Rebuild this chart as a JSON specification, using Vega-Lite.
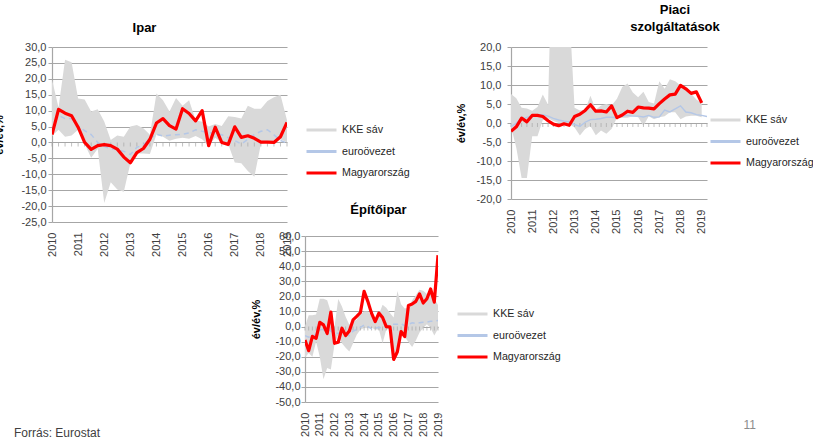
{
  "$schema": "https://vega.github.io/schema/vega-lite/v6.json",
  "background": "white",
  "padding": {"left": -7, "top": 4, "right": 12, "bottom": 0},
  "datasets": {
    "ipar": [
      {"t": 2010.0, "lo": 2.0, "hi": 19.8, "ea": 4.0, "hu": 2.5},
      {"t": 2010.25, "lo": 4.0, "hi": 11.0, "ea": 8.5, "hu": 10.4},
      {"t": 2010.5, "lo": 1.8, "hi": 26.0, "ea": 7.5, "hu": 9.2},
      {"t": 2010.75, "lo": 2.2, "hi": 25.2, "ea": 7.5, "hu": 8.4},
      {"t": 2011.0, "lo": 4.0, "hi": 13.8, "ea": 5.2, "hu": 4.8},
      {"t": 2011.25, "lo": -0.5, "hi": 13.5, "ea": 3.7, "hu": 0.0},
      {"t": 2011.5, "lo": -4.8, "hi": 9.7, "ea": 2.5, "hu": -2.2},
      {"t": 2011.75, "lo": -2.0, "hi": 10.4, "ea": 0.0, "hu": -1.0},
      {"t": 2012.0, "lo": -19.0, "hi": 6.6, "ea": -1.2, "hu": -0.7},
      {"t": 2012.25, "lo": -12.5, "hi": 0.8, "ea": -2.0, "hu": -1.0},
      {"t": 2012.5, "lo": -14.8, "hi": 2.2, "ea": -2.2, "hu": -2.1},
      {"t": 2012.75, "lo": -15.5, "hi": 1.8, "ea": -2.8, "hu": -4.6},
      {"t": 2013.0, "lo": -6.5, "hi": 5.0, "ea": -3.8, "hu": -6.4},
      {"t": 2013.25, "lo": -3.5, "hi": 5.5, "ea": -1.5, "hu": -3.2},
      {"t": 2013.5, "lo": -3.5, "hi": 4.5, "ea": -0.8, "hu": -1.9},
      {"t": 2013.75, "lo": -3.6, "hi": 2.4, "ea": 1.2, "hu": 1.0},
      {"t": 2014.0, "lo": 2.5, "hi": 15.4, "ea": 2.6, "hu": 6.1},
      {"t": 2014.25, "lo": 1.8, "hi": 13.3, "ea": 2.0, "hu": 7.5},
      {"t": 2014.5, "lo": 0.5, "hi": 9.7, "ea": 2.3, "hu": 5.3},
      {"t": 2014.75, "lo": 1.2, "hi": 14.0, "ea": 2.4, "hu": 4.2},
      {"t": 2015.0, "lo": 1.5, "hi": 11.5, "ea": 2.6, "hu": 10.6},
      {"t": 2015.25, "lo": 1.2, "hi": 13.3, "ea": 3.0, "hu": 9.1},
      {"t": 2015.5, "lo": 2.0, "hi": 7.0, "ea": 4.0, "hu": 6.8},
      {"t": 2015.75, "lo": 1.0, "hi": 6.5, "ea": 3.5, "hu": 10.0},
      {"t": 2016.0, "lo": -1.0, "hi": 5.0, "ea": 3.1, "hu": -1.0},
      {"t": 2016.25, "lo": 1.5, "hi": 5.8, "ea": 2.8, "hu": 4.8},
      {"t": 2016.5, "lo": 0.0, "hi": 5.2, "ea": 2.4, "hu": 0.0},
      {"t": 2016.75, "lo": -0.6, "hi": 8.2, "ea": 1.5, "hu": -0.6},
      {"t": 2017.0, "lo": -6.3, "hi": 8.0, "ea": 0.6, "hu": 4.9},
      {"t": 2017.25, "lo": -6.5, "hi": 7.5, "ea": -0.5, "hu": 1.6},
      {"t": 2017.5, "lo": -9.0, "hi": 11.5, "ea": 1.0, "hu": 2.1},
      {"t": 2017.75, "lo": -10.8, "hi": 10.6, "ea": 2.5, "hu": 1.3},
      {"t": 2018.0, "lo": -0.5, "hi": 10.6, "ea": 3.5, "hu": 0.1},
      {"t": 2018.25, "lo": 0.0, "hi": 13.0, "ea": 4.0, "hu": 0.1},
      {"t": 2018.5, "lo": 0.0, "hi": 14.2, "ea": 2.4, "hu": 0.0},
      {"t": 2018.75, "lo": 1.0, "hi": 15.0, "ea": 0.6, "hu": 1.8},
      {"t": 2019.0, "lo": 0.0, "hi": 7.0, "ea": -0.2, "hu": 6.3}
    ],
    "piaci": [
      {"t": 2010.0, "lo": -1.0, "hi": 7.6, "ea": -1.0, "hu": -2.2},
      {"t": 2010.25, "lo": -6.5, "hi": 6.5, "ea": 0.0, "hu": -1.0},
      {"t": 2010.5, "lo": -14.5, "hi": 4.0, "ea": 1.0, "hu": 1.3},
      {"t": 2010.75, "lo": -14.5, "hi": 3.8, "ea": 1.5, "hu": 0.3},
      {"t": 2011.0, "lo": -3.5, "hi": 3.2, "ea": 2.0, "hu": 2.0},
      {"t": 2011.25, "lo": -3.5, "hi": 4.2, "ea": 2.0, "hu": 2.0},
      {"t": 2011.5, "lo": 0.8, "hi": 7.5, "ea": 2.2, "hu": 1.7},
      {"t": 2011.75, "lo": 1.2, "hi": 4.8, "ea": 1.8, "hu": 0.6},
      {"t": 2012.0, "lo": 0.5, "hi": 60.0, "ea": 1.2, "hu": -0.3},
      {"t": 2012.25, "lo": 0.0, "hi": 45.0, "ea": 0.8, "hu": -0.7},
      {"t": 2012.5, "lo": -0.5, "hi": 35.0, "ea": 0.5, "hu": -0.2},
      {"t": 2012.75, "lo": -0.3, "hi": 30.0, "ea": 0.3, "hu": -0.6},
      {"t": 2013.0, "lo": -1.2, "hi": 4.0, "ea": -0.4, "hu": 1.7},
      {"t": 2013.25, "lo": -3.3, "hi": 3.3, "ea": -0.9, "hu": 2.3},
      {"t": 2013.5, "lo": -1.6, "hi": 3.5, "ea": 0.2, "hu": 3.3},
      {"t": 2013.75, "lo": -0.8, "hi": 7.2, "ea": 0.9, "hu": 4.8},
      {"t": 2014.0, "lo": -3.2, "hi": 3.5, "ea": 1.0, "hu": 3.1},
      {"t": 2014.25, "lo": -2.0, "hi": 4.6, "ea": 1.2, "hu": 3.2},
      {"t": 2014.5, "lo": -2.8, "hi": 5.0, "ea": 1.5, "hu": 2.9},
      {"t": 2014.75, "lo": -1.5, "hi": 4.6, "ea": 1.5, "hu": 4.5},
      {"t": 2015.0, "lo": 1.4, "hi": 6.4, "ea": 1.4, "hu": 1.4},
      {"t": 2015.25, "lo": 1.4, "hi": 9.5, "ea": 1.8, "hu": 2.1},
      {"t": 2015.5, "lo": 1.4, "hi": 10.4, "ea": 2.0, "hu": 3.1},
      {"t": 2015.75, "lo": 1.8, "hi": 8.0, "ea": 1.8, "hu": 2.8},
      {"t": 2016.0, "lo": 1.5, "hi": 6.8, "ea": 1.8, "hu": 4.2},
      {"t": 2016.25, "lo": -0.7, "hi": 8.2, "ea": 1.6, "hu": 4.0},
      {"t": 2016.5, "lo": 1.8, "hi": 5.5, "ea": 2.0, "hu": 3.9},
      {"t": 2016.75, "lo": 1.0, "hi": 5.1, "ea": 1.5, "hu": 3.7},
      {"t": 2017.0, "lo": 1.5, "hi": 11.0, "ea": 1.6, "hu": 5.1},
      {"t": 2017.25, "lo": 1.8, "hi": 9.0, "ea": 3.4, "hu": 6.3},
      {"t": 2017.5, "lo": 2.8, "hi": 11.5, "ea": 2.9, "hu": 7.4},
      {"t": 2017.75, "lo": 2.8, "hi": 11.0, "ea": 3.7, "hu": 7.6},
      {"t": 2018.0, "lo": 1.0, "hi": 9.9, "ea": 4.5, "hu": 9.9},
      {"t": 2018.25, "lo": 1.7, "hi": 9.0, "ea": 2.9, "hu": 9.0},
      {"t": 2018.5, "lo": 1.9, "hi": 7.7, "ea": 2.7, "hu": 7.8},
      {"t": 2018.75, "lo": 1.9, "hi": 6.2, "ea": 2.2, "hu": 8.2},
      {"t": 2019.0, "lo": 1.5, "hi": 5.1, "ea": 2.0, "hu": 5.3},
      {"t": 2019.25, "lo": null, "hi": null, "ea": 1.7, "hu": null}
    ],
    "epito": [
      {"t": 2010.0, "lo": -20.5, "hi": 0.0, "ea": -6.0, "hu": -8.9},
      {"t": 2010.25, "lo": -17.5, "hi": 7.5, "ea": -7.0, "hu": -16.0},
      {"t": 2010.5, "lo": -20.0, "hi": 7.5, "ea": -6.5, "hu": -6.5},
      {"t": 2010.75, "lo": -10.0, "hi": 8.0, "ea": -5.0, "hu": -7.8},
      {"t": 2011.0, "lo": -20.0, "hi": 18.5, "ea": -2.0, "hu": 2.8},
      {"t": 2011.25, "lo": -35.0, "hi": 18.5, "ea": -2.0, "hu": 1.1},
      {"t": 2011.5, "lo": -27.5, "hi": 17.5, "ea": -1.5, "hu": -4.6},
      {"t": 2011.75, "lo": -28.5, "hi": 9.6, "ea": -3.0, "hu": 9.6},
      {"t": 2012.0, "lo": -11.5, "hi": 0.0, "ea": -4.5, "hu": -11.1},
      {"t": 2012.25, "lo": -5.5, "hi": 18.3, "ea": -4.5, "hu": -10.4},
      {"t": 2012.5, "lo": -11.0, "hi": 13.3, "ea": -4.0, "hu": -1.1},
      {"t": 2012.75, "lo": -14.0, "hi": 6.5, "ea": -5.5, "hu": -6.0},
      {"t": 2013.0, "lo": -16.5, "hi": 1.2, "ea": -6.0, "hu": -2.9},
      {"t": 2013.25, "lo": -11.0, "hi": 3.5, "ea": -3.0, "hu": 4.4},
      {"t": 2013.5, "lo": -5.5, "hi": 4.5, "ea": -2.0, "hu": 6.7},
      {"t": 2013.75, "lo": -2.2, "hi": 8.3, "ea": -0.5, "hu": 9.3},
      {"t": 2014.0, "lo": -1.0, "hi": 10.0, "ea": 1.0, "hu": 23.3},
      {"t": 2014.25, "lo": -1.2, "hi": 10.0, "ea": 0.0, "hu": 16.7},
      {"t": 2014.5, "lo": -0.8, "hi": 7.3, "ea": -1.5, "hu": 8.9},
      {"t": 2014.75, "lo": -2.0, "hi": 3.0, "ea": -1.0, "hu": 3.3},
      {"t": 2015.0, "lo": -2.0, "hi": 8.0, "ea": -0.5, "hu": 8.9},
      {"t": 2015.25, "lo": -11.0, "hi": 14.5, "ea": -1.0, "hu": 6.0},
      {"t": 2015.5, "lo": -2.0, "hi": 12.5, "ea": 0.5, "hu": 0.0},
      {"t": 2015.75, "lo": -1.5, "hi": 9.0, "ea": 1.0, "hu": -0.2},
      {"t": 2016.0, "lo": -22.0, "hi": 6.0, "ea": 1.5, "hu": -21.8},
      {"t": 2016.25, "lo": -17.0, "hi": 23.5, "ea": 1.5, "hu": -16.7},
      {"t": 2016.5, "lo": -5.0, "hi": 14.8, "ea": 2.0, "hu": -3.3},
      {"t": 2016.75, "lo": -7.0, "hi": 12.0, "ea": 0.5, "hu": -6.7},
      {"t": 2017.0, "lo": -10.2, "hi": 12.5, "ea": 1.5, "hu": 14.0},
      {"t": 2017.25, "lo": -13.5, "hi": 17.5, "ea": 2.5, "hu": 14.9},
      {"t": 2017.5, "lo": -9.2, "hi": 20.8, "ea": 2.0, "hu": 16.7},
      {"t": 2017.75, "lo": -4.0, "hi": 24.4, "ea": 2.5, "hu": 21.6},
      {"t": 2018.0, "lo": -1.0, "hi": 23.8, "ea": 2.8, "hu": 15.6},
      {"t": 2018.25, "lo": 1.5, "hi": 21.5, "ea": 3.0, "hu": 18.4},
      {"t": 2018.5, "lo": -1.0, "hi": 24.4, "ea": 3.5, "hu": 24.9},
      {"t": 2018.75, "lo": -6.0, "hi": 18.6, "ea": 3.5, "hu": 16.2},
      {"t": 2019.0, "lo": -1.5, "hi": 14.2, "ea": 4.0, "hu": 47.3}
    ]
  },
  "columns": 3,
  "align": "each",
  "bounds": "flush",
  "spacing": {"row": 14, "column": 18},
  "concat": [
    {
      "width": 235,
      "height": 175,
      "data": {"name": "ipar"},
      "title": {"text": "Ipar", "dx": -25, "offset": -7, "baseline": "bottom"},
      "encoding": {
        "x": {
          "field": "t", "type": "quantitative",
          "scale": {"domain": [2010, 2019], "nice": false, "zero": false},
          "axis": {"values": [2010, 2011, 2012, 2013, 2014, 2015, 2016, 2017, 2018, 2019], "tickCount": 100, "format": "d", "title": null}
        }
      },
      "layer": [
        {
          "mark": {"type": "area", "opacity": 1, "clip": true},
          "encoding": {
            "y": {
              "field": "lo", "type": "quantitative", "title": "év/év,%",
              "scale": {"domain": [-25, 30], "nice": false, "zero": false},
              "axis": {
                "values": [-25, -20, -15, -10, -5, 0, 5, 10, 15, 20, 25, 30], "tickCount": 100,
                "labelExpr": "(datum.value < 0 ? '-' : '') + replace(format(abs(datum.value), '.1f'), '.', ',')",
                "labelPadding": 2, "titlePadding": 16
              }
            },
            "y2": {"field": "hi"},
            "color": {
              "datum": "KKE sáv", "type": "nominal",
              "scale": {"domain": ["KKE sáv", "euroövezet", "Magyarország"], "range": ["#d9d9d9", "#b4c7e7", "#ff0000"]},
              "legend": {
                "orient": "none", "legendX": 253, "legendY": 76,
                "encode": {"symbols": {"update": {
                  "fill": {"value": "transparent"},
                  "stroke": {"condition": [{"test": "datum.value === 'KKE sáv'", "value": "#d9d9d9"}, {"test": "datum.value === 'euroövezet'", "value": "#b4c7e7"}], "value": "#ff0000"},
                  "strokeWidth": {"condition": [{"test": "datum.value === 'KKE sáv'", "value": 9}, {"test": "datum.value === 'euroövezet'", "value": 1.5}], "value": 3},
                  "strokeDash": {"condition": {"test": "datum.value === 'euroövezet'", "value": [5, 4]}, "value": [1, 0]},
                  "opacity": {"value": 1}
                }}}
              }
            }
          }
        },
        {
          "mark": {"type": "tick", "orient": "vertical", "size": 4, "thickness": 1, "yOffset": 2, "color": "#a6a6a6"},
          "encoding": {"y": {"datum": 0, "type": "quantitative", "title": "év/év,%"}}
        },
        {
          "mark": {"type": "line", "strokeWidth": 1.5, "strokeDash": [5, 4], "clip": true},
          "encoding": {
            "y": {"field": "ea", "type": "quantitative", "title": "év/év,%"},
            "color": {"datum": "euroövezet", "type": "nominal"}
          }
        },
        {
          "mark": {"type": "line", "strokeWidth": 3.2, "strokeJoin": "round", "clip": true},
          "encoding": {
            "y": {"field": "hu", "type": "quantitative", "title": "év/év,%"},
            "color": {"datum": "Magyarország", "type": "nominal"}
          }
        }
      ]
    },
    {
      "width": 188,
      "height": 1,
      "data": {"values": []},
      "mark": {"type": "point", "opacity": 0},
      "encoding": {}
    },
    {
      "width": 196,
      "height": 152,
      "data": {"name": "piaci"},
      "title": {"text": ["Piaci", "szolgáltatások"], "lineHeight": 17, "dx": 66, "offset": -6, "baseline": "bottom"},
      "encoding": {
        "x": {
          "field": "t", "type": "quantitative",
          "scale": {"domain": [2010, 2019.25], "nice": false, "zero": false},
          "axis": {"values": [2010, 2011, 2012, 2013, 2014, 2015, 2016, 2017, 2018, 2019], "tickCount": 100, "format": "d", "title": null}
        }
      },
      "layer": [
        {
          "mark": {"type": "area", "opacity": 1, "clip": true},
          "encoding": {
            "y": {
              "field": "lo", "type": "quantitative", "title": "év/év,%",
              "scale": {"domain": [-20, 20], "nice": false, "zero": false},
              "axis": {
                "values": [-20, -15, -10, -5, 0, 5, 10, 15, 20], "tickCount": 100,
                "labelExpr": "(datum.value < 0 ? '-' : '') + replace(format(abs(datum.value), '.1f'), '.', ',')",
                "labelPadding": 6, "titlePadding": 9
              }
            },
            "y2": {"field": "hi"},
            "color": {
              "datum": "KKE sáv", "type": "nominal",
              "scale": {"domain": ["KKE sáv", "euroövezet", "Magyarország"], "range": ["#d9d9d9", "#b4c7e7", "#ff0000"]},
              "legend": {
                "orient": "none", "legendX": 198, "legendY": 66,
                "encode": {"symbols": {"update": {
                  "fill": {"value": "transparent"},
                  "stroke": {"condition": [{"test": "datum.value === 'KKE sáv'", "value": "#d9d9d9"}, {"test": "datum.value === 'euroövezet'", "value": "#b4c7e7"}], "value": "#ff0000"},
                  "strokeWidth": {"condition": [{"test": "datum.value === 'KKE sáv'", "value": 9}, {"test": "datum.value === 'euroövezet'", "value": 1.5}], "value": 3},
                  "strokeDash": {"condition": {"test": "datum.value === 'euroövezet'", "value": [5, 4]}, "value": [1, 0]},
                  "opacity": {"value": 1}
                }}}
              }
            }
          }
        },
        {
          "mark": {"type": "tick", "orient": "vertical", "size": 4, "thickness": 1, "yOffset": 2, "color": "#a6a6a6"},
          "encoding": {"y": {"datum": 0, "type": "quantitative", "title": "év/év,%"}}
        },
        {
          "mark": {"type": "line", "strokeWidth": 1.4, "clip": true},
          "encoding": {
            "y": {"field": "ea", "type": "quantitative", "title": "év/év,%"},
            "color": {"datum": "euroövezet", "type": "nominal"}
          }
        },
        {
          "mark": {"type": "line", "strokeWidth": 3.2, "strokeJoin": "round", "clip": true},
          "encoding": {
            "y": {"field": "hu", "type": "quantitative", "title": "év/év,%"},
            "color": {"datum": "Magyarország", "type": "nominal"}
          }
        }
      ]
    },
    {
      "width": 1,
      "height": 190,
      "data": {"values": []},
      "title": {"text": "Forrás: Eurostat", "orient": "bottom", "anchor": "start", "dx": -38, "offset": 2, "baseline": "top", "fontSize": 12, "fontWeight": "normal", "color": "#404040"},
      "mark": {"type": "point", "opacity": 0},
      "encoding": {}
    },
    {
      "width": 133,
      "height": 166,
      "data": {"name": "epito"},
      "title": {"text": "Építőipar", "dx": 7, "offset": 0, "baseline": "bottom"},
      "encoding": {
        "x": {
          "field": "t", "type": "quantitative",
          "scale": {"domain": [2010, 2019], "nice": false, "zero": false},
          "axis": {"values": [2010, 2011, 2012, 2013, 2014, 2015, 2016, 2017, 2018, 2019], "tickCount": 100, "format": "d", "title": null}
        }
      },
      "layer": [
        {
          "mark": {"type": "area", "opacity": 1, "clip": true},
          "encoding": {
            "y": {
              "field": "lo", "type": "quantitative", "title": "év/év,%",
              "scale": {"domain": [-50, 60], "nice": false, "zero": false},
              "axis": {
                "values": [-50, -40, -30, -20, -10, 0, 10, 20, 30, 40, 50, 60], "tickCount": 100,
                "labelExpr": "(datum.value < 0 ? '-' : '') + replace(format(abs(datum.value), '.1f'), '.', ',')",
                "labelPadding": 1, "titlePadding": 13
              }
            },
            "y2": {"field": "hi"},
            "color": {
              "datum": "KKE sáv", "type": "nominal",
              "scale": {"domain": ["KKE sáv", "euroövezet", "Magyarország"], "range": ["#d9d9d9", "#b4c7e7", "#ff0000"]},
              "legend": {
                "orient": "none", "legendX": 151, "legendY": 71,
                "encode": {"symbols": {"update": {
                  "fill": {"value": "transparent"},
                  "stroke": {"condition": [{"test": "datum.value === 'KKE sáv'", "value": "#d9d9d9"}, {"test": "datum.value === 'euroövezet'", "value": "#b4c7e7"}], "value": "#ff0000"},
                  "strokeWidth": {"condition": [{"test": "datum.value === 'KKE sáv'", "value": 9}, {"test": "datum.value === 'euroövezet'", "value": 1.5}], "value": 3},
                  "strokeDash": {"condition": {"test": "datum.value === 'euroövezet'", "value": [5, 4]}, "value": [1, 0]},
                  "opacity": {"value": 1}
                }}}
              }
            }
          }
        },
        {
          "mark": {"type": "tick", "orient": "vertical", "size": 4, "thickness": 1, "yOffset": 2, "color": "#a6a6a6"},
          "encoding": {"y": {"datum": 0, "type": "quantitative", "title": "év/év,%"}}
        },
        {
          "mark": {"type": "line", "strokeWidth": 1.5, "strokeDash": [5, 4], "clip": true},
          "encoding": {
            "y": {"field": "ea", "type": "quantitative", "title": "év/év,%"},
            "color": {"datum": "euroövezet", "type": "nominal"}
          }
        },
        {
          "mark": {"type": "line", "strokeWidth": 3.2, "strokeJoin": "round", "clip": true},
          "encoding": {
            "y": {"field": "hu", "type": "quantitative", "title": "év/év,%"},
            "color": {"datum": "Magyarország", "type": "nominal"}
          }
        }
      ]
    },
    {
      "width": 245,
      "height": 182,
      "data": {"values": []},
      "title": {"text": "11", "orient": "bottom", "anchor": "end", "offset": 2, "baseline": "top", "fontSize": 12, "fontWeight": "normal", "color": "#8c8c8c"},
      "mark": {"type": "point", "opacity": 0},
      "encoding": {}
    }
  ],
  "resolve": {
    "scale": {"x": "independent", "y": "independent", "color": "independent"},
    "axis": {"x": "independent", "y": "independent"},
    "legend": {"color": "independent"}
  },
  "config": {
    "view": {"stroke": null},
    "font": "Liberation Sans",
    "title": {"font": "Liberation Sans", "fontSize": 13, "fontWeight": "bold", "color": "#000000"},
    "axis": {
      "labelFont": "Liberation Sans", "labelFontSize": 11, "labelColor": "#404040",
      "labelFlush": false, "labelOverlap": false,
      "titleFont": "Liberation Sans", "titleFontSize": 11, "titleFontWeight": "bold", "titleColor": "#000000",
      "gridColor": "#a6a6a6", "gridWidth": 1.2, "gridOpacity": 1,
      "tickColor": "#a6a6a6", "tickSize": 4, "domainColor": "#a6a6a6", "domainWidth": 1.2
    },
    "axisX": {"grid": false, "domain": false, "ticks": false, "labelAngle": 270, "labelPadding": 10},
    "axisY": {"grid": true, "domain": true, "ticks": true},
    "legend": {
      "title": null,
      "symbolType": "stroke",
      "symbolSize": 900,
      "symbolStrokeWidth": 3,
      "symbolOpacity": 1,
      "clipHeight": 14,
      "rowPadding": 7.5,
      "labelOffset": 4,
      "labelFont": "Liberation Sans",
      "labelFontSize": 10.7,
      "labelColor": "#262626",
      "padding": 0
    }
  }
}
